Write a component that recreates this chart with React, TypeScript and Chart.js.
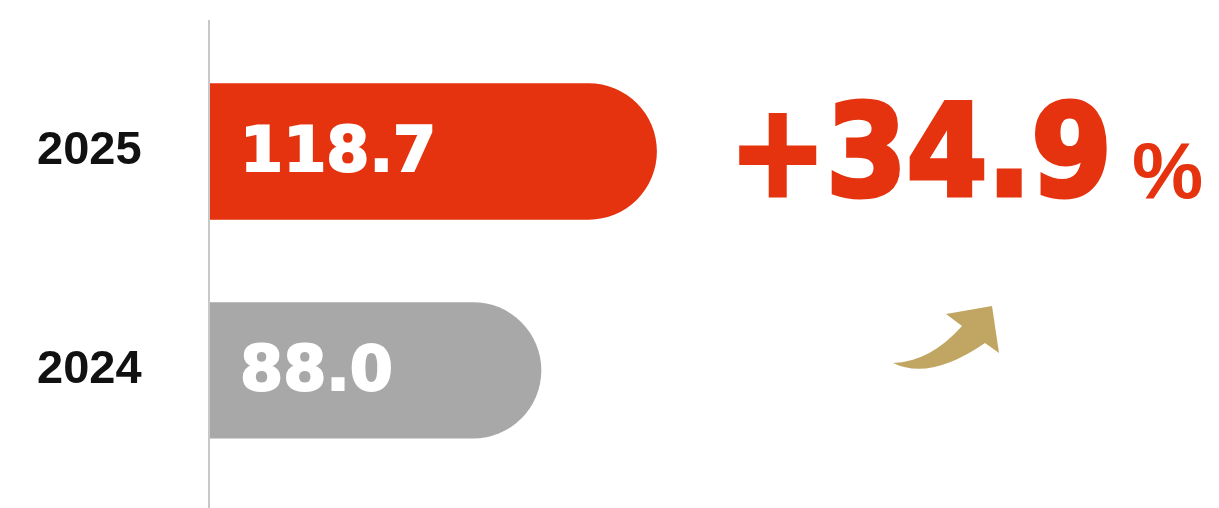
import React, { useEffect, useRef } from 'react';
import { Chart, registerables } from 'chart.js';

Chart.register(...registerables);

const categories = ['2025', '2024'];
const values = [118.7, 88.0];
const barColors = ['#e6330f', '#a8a8a8'];
const percentSign = '%';

const RED = '#e6330f';
const GOLD = '#c1a562';
const AXIS_COLOR = '#c8c8c8';

const decorPlugin = {
  id: 'decor',
  beforeDatasetsDraw(chart: any) {
    const { ctx, chartArea } = chart;
    ctx.save();
    ctx.strokeStyle = AXIS_COLOR;
    ctx.lineWidth = 2;
    ctx.beginPath();
    ctx.moveTo(chartArea.left - 1, 20);
    ctx.lineTo(chartArea.left - 1, chart.height);
    ctx.stroke();
    ctx.restore();
  },
  afterDatasetsDraw(chart: any) {
    const { ctx, chartArea } = chart;
    const meta = chart.getDatasetMeta(0);
    ctx.save();
    ctx.lineJoin = 'miter';
    ctx.miterLimit = 2;
    // value labels inside bars
    ctx.fillStyle = '#ffffff';
    ctx.strokeStyle = '#ffffff';
    ctx.lineWidth = 2;
    ctx.font = 'bold 62px "DejaVu Sans"';
    ctx.textBaseline = 'alphabetic';
    ctx.textAlign = 'left';
    meta.data.forEach((bar: any, i: number) => {
      const t = values[i].toFixed(1);
      ctx.fillText(t, chartArea.left + 30, bar.y + 20);
      ctx.strokeText(t, chartArea.left + 30, bar.y + 20);
    });

    // growth text
    const growth = (values[0] / values[1] - 1) * 100;
    const txt = '+' + growth.toFixed(1);
    ctx.font = 'bold 127px "DejaVu Sans"';
    ctx.fillStyle = RED;
    ctx.strokeStyle = RED;
    const m = ctx.measureText(txt);
    const inkW = m.actualBoundingBoxLeft + m.actualBoundingBoxRight;
    const sx = 364 / inkW;
    ctx.save();
    ctx.translate(741, 195);
    ctx.scale(sx, 1);
    ctx.lineWidth = 5;
    ctx.fillText(txt, m.actualBoundingBoxLeft, 0);
    ctx.strokeText(txt, m.actualBoundingBoxLeft, 0);
    ctx.restore();

    ctx.font = 'bold 80px "Liberation Sans"';
    const pm = ctx.measureText(percentSign);
    ctx.fillText(percentSign, 1134 + pm.actualBoundingBoxLeft, 198);

    // arrow
    ctx.fillStyle = GOLD;
    ctx.beginPath();
    ctx.moveTo(893, 363);
    ctx.quadraticCurveTo(930, 381, 985, 343);
    ctx.lineTo(999, 353);
    ctx.lineTo(992, 306);
    ctx.lineTo(946, 314);
    ctx.lineTo(962, 326);
    ctx.quadraticCurveTo(930, 362, 893, 363);
    ctx.closePath();
    ctx.fill();
    ctx.restore();
  },
};

export default function App() {
  const ref = useRef<HTMLCanvasElement>(null);
  useEffect(() => {
    document.body.style.margin = '0';
    const chart = new Chart(ref.current as HTMLCanvasElement, {
      type: 'bar',
      data: {
        labels: categories,
        datasets: [
          {
            data: values,
            backgroundColor: barColors,
            borderRadius: 69,
            borderSkipped: 'start',
            barPercentage: 0.623,
            categoryPercentage: 1,
          },
        ],
      },
      options: {
        indexAxis: 'y',
        responsive: false,
        animation: false,
        layout: { padding: { top: 42, bottom: 26, left: 37, right: 0 } },
        plugins: { legend: { display: false }, tooltip: { enabled: false } },
        scales: {
          x: { display: false, min: 0, max: 268 },
          y: {
            grid: { display: false, drawTicks: false },
            border: { display: false },
            ticks: {
              color: '#111111',
              font: { family: "'Liberation Sans', sans-serif", size: 47, weight: 'bold' },
              padding: 0,
              crossAlign: 'far',
            },
            afterFit: (s: any) => {
              s.width = 173;
            },
          },
        },
      },
      plugins: [decorPlugin],
    } as any);
    return () => chart.destroy();
  }, []);
  return (
    <div style={{ width: 1219, height: 508 }}>
      <canvas ref={ref} width={1219} height={508} style={{ display: 'block' }} />
    </div>
  );
}
